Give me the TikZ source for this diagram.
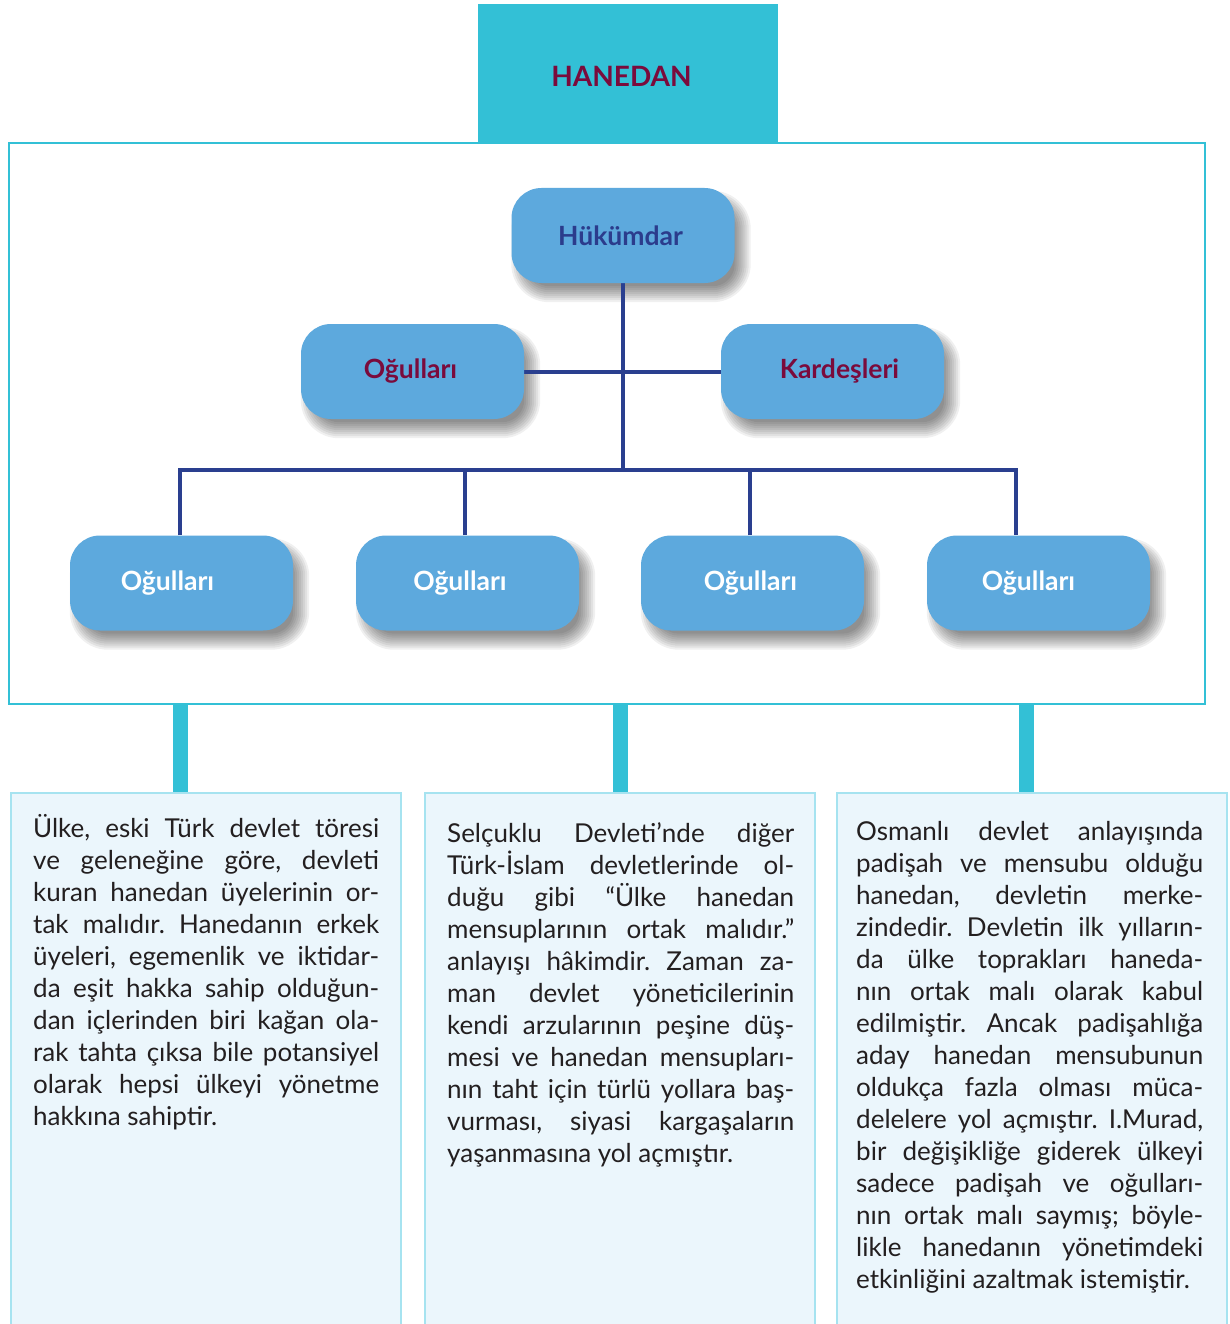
\documentclass[tikz,border=0pt]{standalone}
\usepackage{fontspec}
\setmainfont{Lato}
\frenchspacing
\usetikzlibrary{backgrounds}
\definecolor{cyanb}{RGB}{51,192,214}
\definecolor{boxblue}{RGB}{93,169,221}
\definecolor{linkblue}{RGB}{42,63,143}
\definecolor{crimson}{RGB}{122,11,60}
\definecolor{kingblue}{RGB}{43,60,140}
\definecolor{paleb}{RGB}{235,246,252}
\definecolor{paleedge}{RGB}{166,227,240}
\definecolor{inkgray}{RGB}{35,31,32}
\newcommand\shadowof[1]{%
  \foreach \e in {-8,-6,...,8}{%
    \fill[black,opacity=0.06,rounded corners={(30+\e)*1pt}]
      ([shift={(8-\e,11-\e)}]#1.north west) rectangle ([shift={(8+\e,11+\e)}]#1.south east);}}
\begin{document}
\begin{tikzpicture}[x=1pt,y=-1pt,
  roleb/.style={draw=none, fill=boxblue, rounded corners=30pt, minimum width=223pt, minimum height=95pt,
    inner sep=0pt, font=\fontsize{26.5}{30}\selectfont\bfseries},
  conn/.style={draw=linkblue, line width=4pt},
  cyanbar/.style={draw=cyanb, line width=15pt},
  txtbox/.style={draw=paleedge, fill=paleb, line width=2pt, minimum width=390pt, minimum height=540pt, inner sep=0pt, anchor=north west},
  tline/.style={anchor=base west, inner sep=0pt, text=inkgray, font=\fontsize{26}{32}\selectfont\frenchspacing}
]
\useasboundingbox (0,0) rectangle (1229,1324);
\begin{scope}[on background layer]
\fill[white] (0,0) rectangle (1229,1324);
\end{scope}

% header
\node[fill=cyanb, minimum width=300pt, minimum height=139pt, inner sep=0pt] (hdr) at (628,73.5) {};
\node[inner sep=0pt, font=\fontsize{28}{30}\selectfont\bfseries, text=crimson] (hdrtxt) at (621.5,76) {HANEDAN};
\node[draw=cyanb, line width=2.5pt, minimum width=1196pt, minimum height=561pt, inner sep=0pt] (frame) at (607,423.5) {};

% boxes
\node[roleb, text=kingblue] (h) at (623,235.5) {\hspace*{-5pt}Hükümdar};
\node[roleb, text=crimson] (o) at (412.5,371.5) {\hspace*{-4pt}Oğulları};
\node[roleb, text=crimson] (k) at (832.5,371.5) {\hspace*{14pt}Kardeşleri};
\node[roleb, text=white] (b1) at (181.5,583) {\hspace*{-28pt}Oğulları};
\node[roleb, text=white] (b2) at (467.5,583) {\hspace*{-15pt}Oğulları};
\node[roleb, text=white] (b3) at (752.5,583) {\hspace*{-4pt}Oğulları};
\node[roleb, text=white] (b4) at (1038.5,583) {\hspace*{-20pt}Oğulları};

% shadows and connectors (behind boxes)
\coordinate (j) at (623,470);
\coordinate (xa) at (180,0);
\coordinate (xb) at (465,0);
\coordinate (xc) at (750,0);
\coordinate (xd) at (1016,0);
\begin{scope}[on background layer]
\shadowof{h}\shadowof{o}\shadowof{k}
\shadowof{b1}\shadowof{b2}\shadowof{b3}\shadowof{b4}
\draw[conn] (h.south) -- (j);
\draw[conn] (o.east) -- (k.west);
\draw[conn] (xa |- b1.north) -- (xa |- j) -- (xd |- j) -- (xd |- b4.north);
\draw[conn] (xb |- b2.north) -- (xb |- j);
\draw[conn] (xc |- b3.north) -- (xc |- j);
\end{scope}

% text boxes
\node[txtbox] (t1) at (10,792) {};
\node[txtbox] (t2) at (424,792) {};
\node[txtbox] (t3) at (836,792) {};

\coordinate (c1) at (180,0);
\coordinate (c2) at (620,0);
\coordinate (c3) at (1026.5,0);
\draw[cyanbar] (c1 |- frame.south) -- (c1 |- t1.north);
\draw[cyanbar] (c2 |- frame.south) -- (c2 |- t2.north);
\draw[cyanbar] (c3 |- frame.south) -- (c3 |- t3.north);

% column texts
\foreach \t [count=\i] in {
  {Ülke, eski Türk devlet töresi},
  {ve geleneğine göre, devleti},
  {kuran hanedan üyelerinin or-},
  {tak malıdır. Hanedanın erkek},
  {üyeleri, egemenlik ve iktidar-},
  {da eşit hakka sahip olduğun-},
  {dan içlerinden biri kağan ola-},
  {rak tahta çıksa bile potansiyel},
  {olarak hepsi ülkeyi yönetme}}
  {\node[tline] (La\i) at (33,{837+32*(\i-1)}) {\makebox[346pt][s]{\t}};}
\node[tline] (La10) at (33,1125) {hakkına sahiptir.};

\foreach \t [count=\i] in {
  {Selçuklu Devleti’nde diğer},
  {Türk-İslam devletlerinde ol-},
  {duğu gibi “Ülke hanedan},
  {mensuplarının ortak malıdır.”},
  {anlayışı hâkimdir. Zaman za-},
  {man devlet yöneticilerinin},
  {kendi arzularının peşine düş-},
  {mesi ve hanedan mensupları-},
  {nın taht için türlü yollara baş-},
  {vurması, siyasi kargaşaların}}
  {\node[tline] (Lb\i) at (447,{842+32*(\i-1)}) {\makebox[347pt][s]{\t}};}
\node[tline] (Lb11) at (447,1162) {yaşanmasına yol açmıştır.};

\foreach \t [count=\i] in {
  {Osmanlı devlet anlayışında},
  {padişah ve mensubu olduğu},
  {hanedan, devletin merke-},
  {zindedir. Devletin ilk yılların-},
  {da ülke toprakları haneda-},
  {nın ortak malı olarak kabul},
  {edilmiştir. Ancak padişahlığa},
  {aday hanedan mensubunun},
  {oldukça fazla olması müca-},
  {delelere yol açmıştır. I.Murad,},
  {bir değişikliğe giderek ülkeyi},
  {sadece padişah ve oğulları-},
  {nın ortak malı saymış; böyle-},
  {likle hanedanın yönetimdeki}}
  {\node[tline] (Lc\i) at (856,{840+32*(\i-1)}) {\makebox[347pt][s]{\t}};}
\node[tline] (Lc15) at (856,1288) {etkinliğini azaltmak istemiştir.};
\end{tikzpicture}
\end{document}
